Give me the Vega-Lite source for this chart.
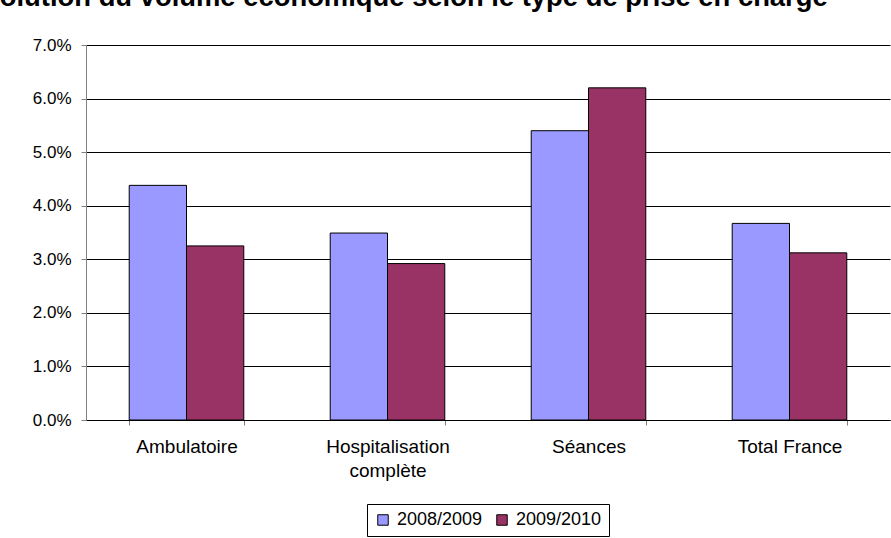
{
  "$schema": "https://vega.github.io/schema/vega-lite/v6.json",
  "width": 804,
  "height": 375,
  "autosize": {"type": "none"},
  "padding": {"left": 86, "top": 45, "right": 1, "bottom": 118},
  "background": "white",
  "title": {
    "text": "Evolution du volume économique selon le type de prise en charge",
    "anchor": "start",
    "dx": -66,
    "dy": 23,
    "font": "Liberation Sans",
    "fontSize": 27.4,
    "fontWeight": "bold",
    "color": "black",
    "baseline": "alphabetic",
    "offset": 26
  },
  "data": {
    "values": [
      {"type": "Ambulatoire", "period": "2008/2009", "value": 0.0438},
      {"type": "Ambulatoire", "period": "2009/2010", "value": 0.0325},
      {"type": "Hospitalisation complète", "period": "2008/2009", "value": 0.0349},
      {"type": "Hospitalisation complète", "period": "2009/2010", "value": 0.0292},
      {"type": "Séances", "period": "2008/2009", "value": 0.054},
      {"type": "Séances", "period": "2009/2010", "value": 0.062},
      {"type": "Total France", "period": "2008/2009", "value": 0.0367},
      {"type": "Total France", "period": "2009/2010", "value": 0.0312}
    ]
  },
  "mark": {"type": "bar", "stroke": "black", "strokeWidth": 1},
  "encoding": {
    "x": {
      "field": "type",
      "type": "nominal",
      "sort": ["Ambulatoire", "Hospitalisation complète", "Séances", "Total France"],
      "scale": {"paddingInner": 0.43, "paddingOuter": 0.215},
      "axis": {
        "title": null,
        "labelAngle": 0,
        "tickBand": "extent",
        "domainColor": "black",
        "domainWidth": 1,
        "tickColor": "#808080",
        "tickSize": 5,
        "labelPadding": 12,
        "labelFont": "Liberation Sans",
        "labelFontSize": 19,
        "labelColor": "black",
        "labelLineHeight": 24,
        "labelBaseline": "top",
        "grid": false,
        "labelExpr": "datum.value == 'Hospitalisation complète' ? ['Hospitalisation', 'complète'] : datum.value"
      }
    },
    "xOffset": {
      "field": "period",
      "type": "nominal",
      "scale": {"paddingInner": 0, "paddingOuter": 0}
    },
    "y": {
      "field": "value",
      "type": "quantitative",
      "scale": {"domain": [0, 0.07], "nice": false},
      "axis": {
        "title": null,
        "format": ".1%",
        "values": [0, 0.01, 0.02, 0.03, 0.04, 0.05, 0.06, 0.07],
        "domainColor": "#808080",
        "domainWidth": 1,
        "tickColor": "#808080",
        "tickSize": 5,
        "labelPadding": 10,
        "labelFont": "Liberation Sans",
        "labelFontSize": 17,
        "labelColor": "black",
        "grid": true,
        "gridColor": "black",
        "gridWidth": 1
      }
    },
    "color": {
      "field": "period",
      "type": "nominal",
      "scale": {"range": ["#9999FF", "#993366"]},
      "legend": {
        "title": null,
        "orient": "bottom",
        "direction": "horizontal",
        "strokeColor": "black",
        "padding": 7,
        "offset": 24,
        "symbolType": "square",
        "symbolSize": 110,
        "symbolStrokeColor": "black",
        "symbolStrokeWidth": 1,
        "symbolOpacity": 1,
        "labelFont": "Liberation Sans",
        "labelFontSize": 18,
        "labelColor": "black",
        "labelOffset": 5,
        "columnPadding": 10
      }
    }
  },
  "config": {
    "view": {"stroke": null},
    "legend": {"layout": {"bottom": {"anchor": "middle"}}}
  }
}
